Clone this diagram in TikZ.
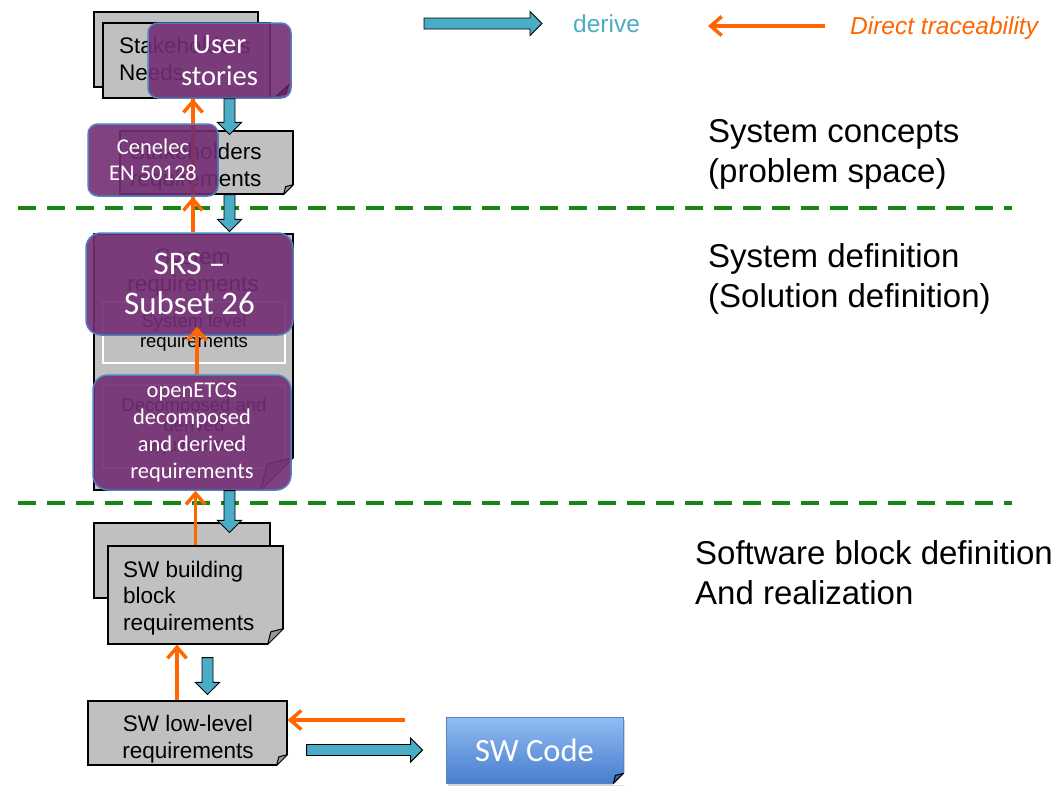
\documentclass[tikz,border=0pt]{standalone}
\usepackage{fontspec}
\setmainfont{Liberation Sans}
\newfontfamily\calib{Carlito}
\usetikzlibrary{calc,arrows.meta,shadows}

\definecolor{grayfill}{RGB}{192,192,192}
\definecolor{foldgray}{RGB}{150,150,150}
\definecolor{purp}{RGB}{115,45,115}
\definecolor{purpdark}{RGB}{80,25,80}
\definecolor{purpedge}{RGB}{79,129,189}
\definecolor{teal1}{RGB}{75,172,198}
\definecolor{orng}{RGB}{255,102,0}
\definecolor{grn}{RGB}{20,135,20}
\definecolor{codetop}{RGB}{146,188,243}
\definecolor{codebot}{RGB}{72,126,206}
\definecolor{codeedge}{RGB}{90,130,200}
\definecolor{codefold}{RGB}{60,100,170}

% folded corner: node, size, fold colour
\newcommand\foldc[3]{%
  \fill[white] ([yshift=#2pt]#1.south east) -- ([shift={(2pt,#2pt)}]#1.south east)
     -- ([shift={(2pt,-2pt)}]#1.south east) -- ([shift={(-#2pt,-2pt)}]#1.south east)
     -- ([xshift=-#2pt]#1.south east) -- cycle;
  \draw[fill=#3, line width=1pt, line join=round] ([yshift=#2pt]#1.south east)
     -- ([shift={(-0.8*#2pt,0.8*#2pt)}]#1.south east) -- ([xshift=-#2pt]#1.south east) -- cycle;
}

\tikzset{
  graybox/.style={draw=black, fill=grayfill, line width=1.2pt, inner sep=0pt},
  innerbox/.style={draw=white, fill=grayfill, line width=1.2pt, inner sep=0pt,
     font=\fontsize{18.5}{20}\selectfont, align=center},
  purpbox/.style={draw=purpedge, fill=purp, fill opacity=0.9, text opacity=1,
     line width=1.5pt, rounded corners=10pt, text=white, align=center, inner sep=0pt},
  armtext/.style={font=\fontsize{22.5}{27}\selectfont, align=left, inner sep=0pt},
  bigtext/.style={font=\fontsize{33}{40}\selectfont, align=left, inner sep=0pt, anchor=west},
  trace/.style={draw=orng, line width=3.5pt, -{Straight Barb[length=11pt,width=19pt]}},
  traceline/.style={draw=orng, line width=3.5pt},
  sepline/.style={draw=grn, line width=4pt, dash pattern=on 18pt off 11pt},
  derive/.style={draw=black, line width=0.9pt, fill=teal1, line join=miter,
    to path={let \p1=(\tikztostart), \p2=(\tikztotarget),
      \n1={veclen(\x2-\x1,\y2-\y1)}, \n2={(\x2-\x1)/\n1}, \n3={(\y2-\y1)/\n1} in
      ({\x1-(\n3)*5.5pt},{\y1+(\n2)*5.5pt})
      -- ({\x2-(\n2)*12pt-(\n3)*5.5pt},{\y2-(\n3)*12pt+(\n2)*5.5pt})
      -- ({\x2-(\n2)*12pt-(\n3)*12pt},{\y2-(\n3)*12pt+(\n2)*12pt})
      -- (\x2,\y2)
      -- ({\x2-(\n2)*12pt+(\n3)*12pt},{\y2-(\n3)*12pt-(\n2)*12pt})
      -- ({\x2-(\n2)*12pt+(\n3)*5.5pt},{\y2-(\n3)*12pt-(\n2)*5.5pt})
      -- ({\x1+(\n3)*5.5pt},{\y1-(\n2)*5.5pt}) -- cycle}},
}

\begin{document}
\begin{tikzpicture}[x=1pt,y=-1pt]
\useasboundingbox (0,0) rectangle (1060,795);

% separators
\coordinate (sepA1) at (18,208);  \coordinate (sepA2) at (1012,208);
\coordinate (sepB1) at (18,503);  \coordinate (sepB2) at (1012,503);
\draw[sepline] (sepA1) -- (sepA2);
\draw[sepline] (sepB1) -- (sepB2);

% legend
\coordinate (lgA) at (424,23.5); \coordinate (lgB) at (542,23.5);
\draw[derive] (lgA) to (lgB);
\node[font=\fontsize{24.5}{29}\selectfont, text=teal1, anchor=west, inner sep=0pt] (lgt) at (573,23.5) {derive};
\coordinate (ltA) at (825,26); \coordinate (ltB) at (708,26);
\draw[trace] (ltA) -- (ltB);
\node[font=\itshape\fontsize{24.5}{29}\selectfont, text=orng, anchor=west, inner sep=0pt] (ltt) at (850,28) {Direct traceability};

% right-hand captions
\node[bigtext] (c1) at (708,154.5) {System concepts\\(problem space)};
\node[bigtext] (c2) at (708,278.5) {System definition\\(Solution definition)};
\node[bigtext] (c3) at (695,573) {Software block definition\\And realization};

% gray documents
\node[graybox, minimum width=164pt, minimum height=75pt] (snb) at (176,49.5) {};
\node[graybox, minimum width=167pt, minimum height=75pt] (snf) at (186.5,60.5) {};
\node[armtext, anchor=west] (snt) at (119,58.5) {Stakeholders\\Needs};

\node[graybox, minimum width=173pt, minimum height=63pt] (sr) at (206.5,162.5) {};
\foldc{sr}{10}{foldgray}
\node[armtext, anchor=west] (srt) at (130,167) {Stakeholders\\requirements};

\node[graybox, minimum width=199pt, minimum height=256pt] (big) at (193.5,362) {};
\node[armtext, align=center] (bigt) at (193,272) {System\\requirements};
\node[innerbox, minimum width=182pt, minimum height=61pt] (lvl) at (194,332.5) {System level\\requirements};
\node[innerbox, minimum width=182pt, minimum height=83pt] (dec) at (194,426.5) {Decomposed and\\derived\\requirements};
\foldc{big}{33}{foldgray}

\node[graybox, minimum width=176pt, minimum height=75pt] (swbb) at (182,560.5) {};
\node[graybox, minimum width=175pt, minimum height=98pt] (swbf) at (195.5,595) {};
\foldc{swbf}{16}{foldgray}
\node[armtext, anchor=west, font=\fontsize{22.5}{26.5}\selectfont] (swbt) at (123,598) {SW building\\block\\requirements};

\node[graybox, minimum width=199pt, minimum height=64pt] (swl) at (187.5,733) {};
\foldc{swl}{11}{foldgray}
\node[armtext, align=center, font=\fontsize{22.5}{26.5}\selectfont] (swlt) at (188,739) {SW low-level\\requirements};

% SW code
\node[draw=codeedge, line width=0.8pt, top color=codetop, bottom color=codebot,
  drop shadow={opacity=0.35, shadow xshift=2pt, shadow yshift=-3pt},
  minimum width=177pt, minimum height=66pt, inner sep=0pt, text=white,
  font=\calib\fontsize{32.5}{39}\selectfont] (code) at (534.5,750) {SW Code};
\foldc{code}{10}{codefold}

% purple overlays
\node[purpbox, minimum width=143pt, minimum height=75pt, font=\calib\fontsize{28.5}{32.5}\selectfont] (us) at (219.5,60.5) {User\\stories};
\draw[draw=purpdark, fill=purpdark, fill opacity=0.5, line width=0.8pt] ([shift={(-3pt,14pt)}]us.south east)
   -- ([shift={(-6pt,5pt)}]us.south east) -- ([shift={(-15pt,3pt)}]us.south east) -- cycle;
\node[purpbox, rounded corners=15pt, minimum width=207pt, minimum height=102pt, font=\calib\fontsize{33}{40}\selectfont] (srs) at (189.5,284) {SRS –\\Subset 26};
\node[purpbox, rounded corners=15pt, minimum width=198pt, minimum height=115pt, font=\calib\fontsize{22.5}{27}\selectfont] (oe) at (192,432.5) {openETCS\\decomposed\\and derived\\requirements};

% derive arrows
\draw[derive] ($(us.south)+(10,0)$) to ($(us.south |- sr.north)+(10,4)$);
\draw[derive] ($(sr.south)+(23,0)$) to ($(sr.south |- big.north)+(23,-2)$);
\draw[derive] ($(big.south)+(36,0)$) to ($(big.south |- swbb.north)+(36,10)$);
\draw[derive] ($(swbf.south)+(12,13)$) to ($(swbf.south |- swl.north)+(12,-6)$);
\draw[derive] ($(swl.east)+(19,17)$) to ($(code.west)+(-23,0)$);

% traceability line running behind the Cenelec box
\draw[traceline] ($(srs.north)+(3.5,0)$) -- ($(srs.north |- us.south)+(3.5,0)$);
\node[purpbox, minimum width=130pt, minimum height=72pt, font=\calib\fontsize{22.5}{26}\selectfont] (cen) at (153,160) {Cenelec\\EN 50128};

% traceability arrows
\draw[trace] ($(cen.north)+(40,0)$) -- ($(cen.north |- us.south)+(40,0)$);
\draw[trace] ($(srs.north)+(3.5,0)$) -- ($(srs.north |- cen.south)+(3.5,0)$);
\draw[trace] ($(oe.north)+(5,0)$) -- ($(oe.north |- srs.south)+(5,-9)$);
\draw[trace] (swbf.north) -- (swbf.north |- oe.south);
\draw[trace] ($(swl.north)+(-10.5,0)$) -- ($(swl.north |- swbf.south)+(-10.5,0)$);
\coordinate (trs) at (405,720);
\draw[trace] (trs) -- (trs -| swl.east);
\end{tikzpicture}
\end{document}
